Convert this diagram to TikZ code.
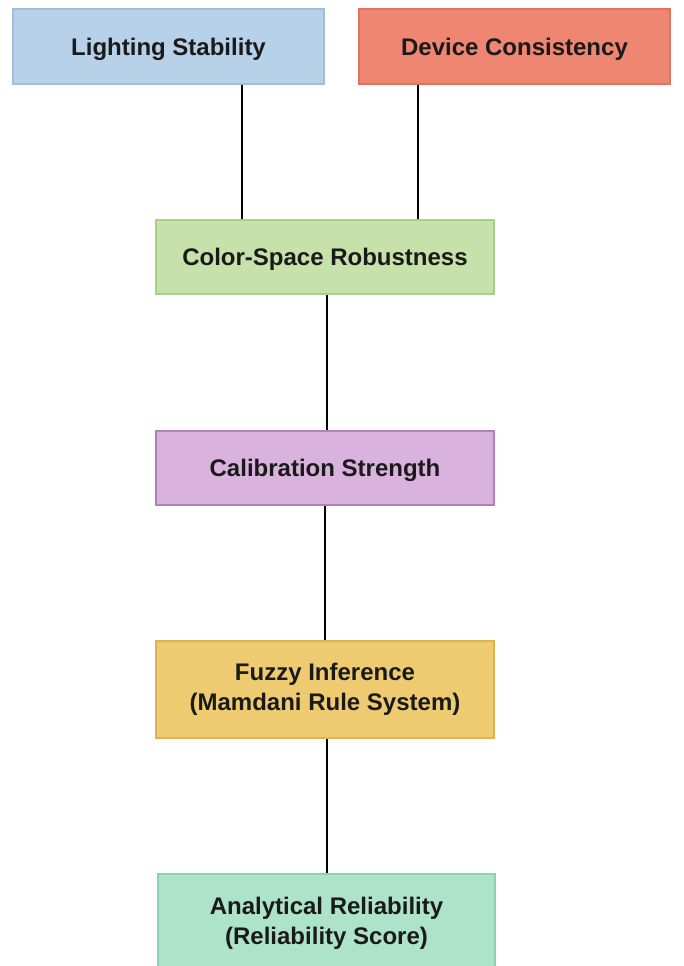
\documentclass[tikz,border=0pt]{standalone}
\usepackage{fontspec}
\setmainfont{Liberation Sans}
\definecolor{bluefill}{HTML}{B7D1E9}
\definecolor{blueline}{HTML}{9CBFE0}
\definecolor{redfill}{HTML}{EE8671}
\definecolor{redline}{HTML}{E0735E}
\definecolor{greenfill}{HTML}{C6E1A9}
\definecolor{greenline}{HTML}{A6CF88}
\definecolor{purplefill}{HTML}{D9B3DE}
\definecolor{purpleline}{HTML}{B47FBD}
\definecolor{yellowfill}{HTML}{EECB70}
\definecolor{yellowline}{HTML}{DDB352}
\definecolor{mintfill}{HTML}{AEE3CB}
\definecolor{mintline}{HTML}{8BD2B1}
\definecolor{txt}{HTML}{1A1A1A}
\begin{document}
\begin{tikzpicture}[x=1pt,y=-1pt,
  box/.style={rectangle,line width=2pt,inner sep=0pt,align=center,
    font=\fontsize{24}{30}\selectfont\bfseries,text=txt},
  oneline/.style={box,text depth=0pt},
  link/.style={line width=2.6pt,draw=black}]
\useasboundingbox[fill=white] (0,0) rectangle (684,966);
\node[oneline,fill=bluefill,draw=blueline,minimum width=311pt,minimum height=75pt] (LS) at (168.5,46.5) {Lighting Stability};
\node[oneline,fill=redfill,draw=redline,minimum width=311pt,minimum height=75pt] (DC) at (514.5,46.5) {Device Consistency};
\node[oneline,fill=greenfill,draw=greenline,minimum width=338pt,minimum height=74pt] (CSR) at (325,257) {Color-Space Robustness};
\node[oneline,fill=purplefill,draw=purpleline,minimum width=338pt,minimum height=74pt] (CS) at (325,468) {Calibration Strength};
\node[box,fill=yellowfill,draw=yellowline,minimum width=338pt,minimum height=97pt] (FI) at (325,689.5) {Fuzzy Inference\\(Mamdani Rule System)};
\node[box,fill=mintfill,draw=mintline,minimum width=337pt,minimum height=98pt] (AR) at (326.5,923) {Analytical Reliability\\(Reliability Score)};
\draw[link] ([xshift=73.5pt]LS.south) -- ([xshift=-83pt]CSR.north);
\draw[link] ([xshift=-96.5pt]DC.south) -- ([xshift=93pt]CSR.north);
\draw[link] ([xshift=2pt]CSR.south) -- ([xshift=2pt]CS.north);
\draw[link] (CS.south) -- (FI.north);
\draw[link] ([xshift=2pt]FI.south) -- ([xshift=0.5pt]AR.north);
\end{tikzpicture}
\end{document}
